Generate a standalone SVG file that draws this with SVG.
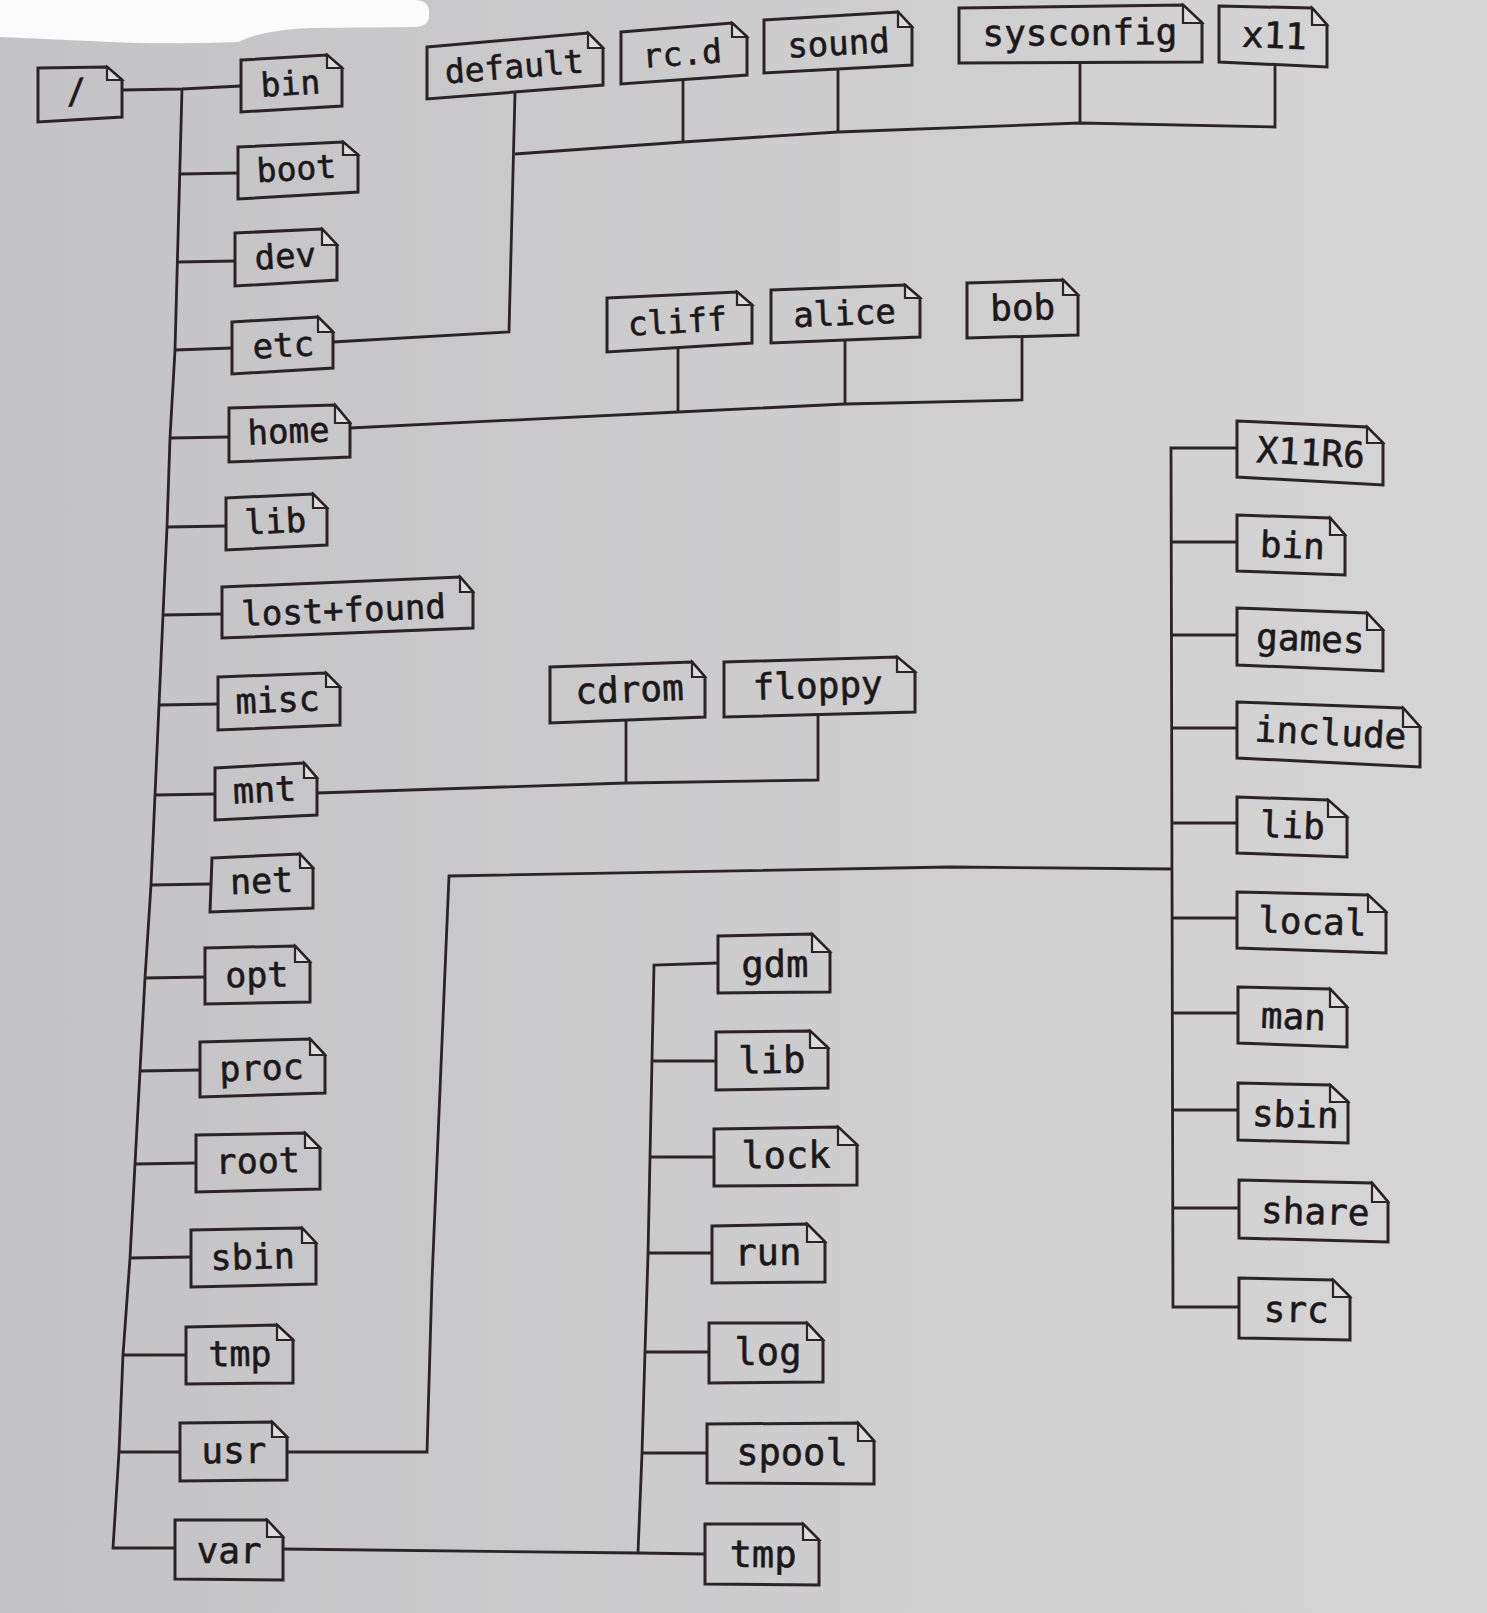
<svg xmlns="http://www.w3.org/2000/svg" width="1487" height="1613" viewBox="0 0 1487 1613">
  <defs>
    <linearGradient id="paper" x1="0" y1="0" x2="1" y2="0">
      <stop offset="0" stop-color="#c3c3c5"/>
      <stop offset="0.65" stop-color="#cfcfd0"/>
      <stop offset="1" stop-color="#d6d6d6"/>
    </linearGradient>
    <style>
      .box { fill: none; stroke: #2a2427; stroke-width: 3; stroke-linejoin: miter; }
      .fold { fill: #dcdcdc; stroke: #2a2427; stroke-width: 2.2; stroke-linejoin: miter; }
      .wire { fill: none; stroke: #2a2427; stroke-width: 2.8; stroke-linejoin: miter; }
      text { font-family: "DejaVu Sans Mono", "Liberation Mono", monospace; fill: #1d181a; stroke: #1d181a; stroke-width: 0.6; text-anchor: middle; }
      .f33 { font-size: 33px; }
      .f34 { font-size: 34px; }
      .f35 { font-size: 35px; }
      .f36 { font-size: 36px; }
      .f37 { font-size: 37px; }
    </style>
  </defs>

  <!-- page -->
  <rect x="0" y="0" width="1487" height="1613" fill="url(#paper)"/>
  <path d="M0,0 H414 Q429,0 429,12 V16 Q429,26 416,27 L310,28 Q262,30 238,42 Q160,45 90,41 L0,37 Z" fill="#fbfbfb"/>

  <!-- connectors -->
  <g id="connectors">
    <!-- root trunk -->
    <polyline class="wire" points="122,90 182,89 241,86"/>
    <polyline class="wire" points="182,89 175,350 170,438 167,527 163,615 159,705 155,795 151,885 145,978 140,1071 135,1164 130,1258 123,1355 119,1452 113,1548 175,1548"/>
    <line class="wire" x1="180" y1="174" x2="238" y2="173"/>
    <line class="wire" x1="178" y1="262" x2="235" y2="261"/>
    <line class="wire" x1="175" y1="350" x2="232" y2="348"/>
    <line class="wire" x1="170" y1="438" x2="229" y2="437"/>
    <line class="wire" x1="167" y1="527" x2="226" y2="526"/>
    <line class="wire" x1="163" y1="615" x2="222" y2="614"/>
    <line class="wire" x1="159" y1="705" x2="218" y2="704"/>
    <line class="wire" x1="155" y1="795" x2="215" y2="794"/>
    <line class="wire" x1="151" y1="885" x2="210" y2="884"/>
    <line class="wire" x1="145" y1="978" x2="205" y2="977"/>
    <line class="wire" x1="140" y1="1071" x2="200" y2="1070"/>
    <line class="wire" x1="135" y1="1164" x2="196" y2="1163"/>
    <line class="wire" x1="130" y1="1258" x2="191" y2="1257"/>
    <line class="wire" x1="123" y1="1355" x2="186" y2="1355"/>
    <line class="wire" x1="119" y1="1452" x2="180" y2="1452"/>

    <!-- /etc -->
    <polyline class="wire" points="333,342 509,332 515,93"/>
    <polyline class="wire" points="515,154 683,142 838,132 1080,123 1275,127 1275,65"/>
    <line class="wire" x1="683" y1="142" x2="683" y2="80"/>
    <line class="wire" x1="838" y1="132" x2="838" y2="69"/>
    <line class="wire" x1="1080" y1="123" x2="1080" y2="62"/>

    <!-- /home -->
    <polyline class="wire" points="350,428 678,412 845,404 1022,400 1022,337"/>
    <line class="wire" x1="678" y1="412" x2="678" y2="348"/>
    <line class="wire" x1="845" y1="404" x2="845" y2="340"/>

    <!-- /mnt -->
    <polyline class="wire" points="317,793 626,783 818,780 818,715"/>
    <line class="wire" x1="626" y1="783" x2="626" y2="720"/>

    <!-- /usr -->
    <polyline class="wire" points="287,1452 427,1452 432,1280 449,876 950,867 1173,869"/>
    <polyline class="wire" points="1237,448 1171,448 1173,1307 1239,1307"/>
    <line class="wire" x1="1171" y1="542" x2="1237" y2="542"/>
    <line class="wire" x1="1171" y1="635" x2="1237" y2="635"/>
    <line class="wire" x1="1171" y1="728" x2="1237" y2="728"/>
    <line class="wire" x1="1172" y1="823" x2="1237" y2="823"/>
    <line class="wire" x1="1172" y1="918" x2="1237" y2="918"/>
    <line class="wire" x1="1172" y1="1013" x2="1238" y2="1013"/>
    <line class="wire" x1="1173" y1="1110" x2="1238" y2="1110"/>
    <line class="wire" x1="1173" y1="1208" x2="1239" y2="1208"/>

    <!-- /var -->
    <polyline class="wire" points="283,1549 638,1553 705,1554"/>
    <polyline class="wire" points="718,963 654,965 652,1060 650,1157 648,1255 645,1352 642,1453 638,1553"/>
    <line class="wire" x1="652" y1="1061" x2="716" y2="1061"/>
    <line class="wire" x1="650" y1="1157" x2="714" y2="1157"/>
    <line class="wire" x1="648" y1="1253" x2="712" y2="1253"/>
    <line class="wire" x1="645" y1="1352" x2="709" y2="1352"/>
    <line class="wire" x1="642" y1="1453" x2="707" y2="1453"/>
  </g>

  <!-- top level -->
  <g id="n-root"><path class="box" d="M38,68 L107,67 L122,80 L122,117 L38,122 Z"/><path class="fold" d="M107,67 L107,80 L122,80 Z"/><text class="f34" x="77" y="103" transform="rotate(-3.4 77 103)">/</text></g>
  <g id="n-bin"><path class="box" d="M241,60 L327,55 L342,68 L342,106 L241,112 Z"/><path class="fold" d="M327,55 L327,68 L342,68 Z"/><text class="f33" x="291" y="95" transform="rotate(-3.4 291 95)">bin</text></g>
  <g id="n-boot"><path class="box" d="M238,147 L343,142 L358,155 L358,192 L238,199 Z"/><path class="fold" d="M343,142 L343,155 L358,155 Z"/><text class="f33" x="297" y="180" transform="rotate(-3.3 297 180)">boot</text></g>
  <g id="n-dev"><path class="box" d="M235,233 L322,229 L337,245 L337,280 L235,286 Z"/><path class="fold" d="M322,229 L322,245 L337,245 Z"/><text class="f34" x="286" y="268" transform="rotate(-3.4 286 268)">dev</text></g>
  <g id="n-etc"><path class="box" d="M232,322 L318,317 L333,332 L333,368 L232,374 Z"/><path class="fold" d="M318,317 L318,332 L333,332 Z"/><text class="f34" x="284" y="357" transform="rotate(-3.4 284 357)">etc</text></g>
  <g id="n-home"><path class="box" d="M229,408 L335,405 L350,423 L350,457 L229,462 Z"/><path class="fold" d="M335,405 L335,423 L350,423 Z"/><text class="f34" x="289" y="443" transform="rotate(-2.4 289 443)">home</text></g>
  <g id="n-lib"><path class="box" d="M226,498 L313,494 L327,508 L327,545 L226,550 Z"/><path class="fold" d="M313,494 L313,508 L327,508 Z"/><text class="f34" x="276" y="533" transform="rotate(-2.8 276 533)">lib</text></g>
  <g id="n-lostfound"><path class="box" d="M222,587 L460,577 L473,592 L473,628 L222,638 Z"/><path class="fold" d="M460,577 L460,592 L473,592 Z"/><text class="f34" x="344" y="622" transform="rotate(-2.3 344 622)">lost+found</text></g>
  <g id="n-misc"><path class="box" d="M218,677 L326,673 L340,687 L340,725 L218,730 Z"/><path class="fold" d="M326,673 L326,687 L340,687 Z"/><text class="f35" x="278" y="712" transform="rotate(-2.3 278 712)">misc</text></g>
  <g id="n-mnt"><path class="box" d="M215,768 L304,763 L317,778 L317,815 L215,820 Z"/><path class="fold" d="M304,763 L304,778 L317,778 Z"/><text class="f35" x="265" y="802" transform="rotate(-2.8 265 802)">mnt</text></g>
  <g id="n-net"><path class="box" d="M212,858 L300,854 L313,868 L313,908 L210,912 Z"/><path class="fold" d="M300,854 L300,868 L313,868 Z"/><text class="f35" x="262" y="893" transform="rotate(-2.2 262 893)">net</text></g>
  <g id="n-opt"><path class="box" d="M205,948 L295,946 L310,962 L310,1002 L205,1004 Z"/><path class="fold" d="M295,946 L295,962 L310,962 Z"/><text class="f35" x="257" y="987" transform="rotate(-1.1 257 987)">opt</text></g>
  <g id="n-proc"><path class="box" d="M200,1042 L310,1039 L325,1055 L325,1093 L200,1097 Z"/><path class="fold" d="M310,1039 L310,1055 L325,1055 Z"/><text class="f35" x="262" y="1080" transform="rotate(-1.8 262 1080)">proc</text></g>
  <g id="n-rootdir"><path class="box" d="M196,1135 L305,1133 L320,1148 L320,1189 L196,1192 Z"/><path class="fold" d="M305,1133 L305,1148 L320,1148 Z"/><text class="f35" x="258" y="1173" transform="rotate(-1.4 258 1173)">root</text></g>
  <g id="n-sbin"><path class="box" d="M191,1230 L302,1228 L316,1243 L316,1284 L191,1287 Z"/><path class="fold" d="M302,1228 L302,1243 L316,1243 Z"/><text class="f35" x="253" y="1269" transform="rotate(-1.4 253 1269)">sbin</text></g>
  <g id="n-tmp"><path class="box" d="M186,1327 L277,1325 L293,1340 L293,1383 L186,1384 Z"/><path class="fold" d="M277,1325 L277,1340 L293,1340 Z"/><text class="f35" x="240" y="1366" transform="rotate(-0.5 240 1366)">tmp</text></g>
  <g id="n-usr"><path class="box" d="M180,1423 L272,1422 L287,1437 L287,1480 L180,1481 Z"/><path class="fold" d="M272,1422 L272,1437 L287,1437 Z"/><text class="f36" x="234" y="1463" transform="rotate(-0.5 234 1463)">usr</text></g>
  <g id="n-var"><path class="box" d="M175,1520 L267,1520 L283,1537 L283,1580 L175,1579 Z"/><path class="fold" d="M267,1520 L267,1537 L283,1537 Z"/><text class="f36" x="229" y="1563" transform="rotate(0.5 229 1563)">var</text></g>

  <!-- /etc children -->
  <g id="n-etc-default"><path class="box" d="M427,47 L588,33 L603,48 L603,85 L427,99 Z"/><path class="fold" d="M588,33 L588,48 L603,48 Z"/><text class="f33" x="515" y="78" transform="rotate(-4.5 515 78)">default</text></g>
  <g id="n-etc-rcd"><path class="box" d="M621,32 L732,23 L747,37 L747,75 L621,84 Z"/><path class="fold" d="M732,23 L732,37 L747,37 Z"/><text class="f33" x="683" y="65" transform="rotate(-4.1 683 65)">rc.d</text></g>
  <g id="n-etc-sound"><path class="box" d="M764,20 L898,12 L912,27 L912,65 L764,73 Z"/><path class="fold" d="M898,12 L898,27 L912,27 Z"/><text class="f34" x="839" y="55" transform="rotate(-3.1 839 55)">sound</text></g>
  <g id="n-etc-sysconfig"><path class="box" d="M959,8 L1183,5 L1202,23 L1202,62 L959,63 Z"/><path class="fold" d="M1183,5 L1183,23 L1202,23 Z"/><text class="f36" x="1080" y="45" transform="rotate(-0.5 1080 45)">sysconfig</text></g>
  <g id="n-etc-x11"><path class="box" d="M1219,6 L1312,8 L1327,25 L1327,67 L1219,62 Z"/><path class="fold" d="M1312,8 L1312,25 L1327,25 Z"/><text class="f36" x="1274" y="48" transform="rotate(2 1274 48)">x11</text></g>

  <!-- /home children -->
  <g id="n-home-cliff"><path class="box" d="M607,298 L737,292 L752,305 L752,343 L607,352 Z"/><path class="fold" d="M737,292 L737,305 L752,305 Z"/><text class="f33" x="678" y="333" transform="rotate(-3.2 678 333)">cliff</text></g>
  <g id="n-home-alice"><path class="box" d="M771,290 L905,285 L920,298 L920,337 L771,343 Z"/><path class="fold" d="M905,285 L905,298 L920,298 Z"/><text class="f34" x="845" y="325" transform="rotate(-2.3 845 325)">alice</text></g>
  <g id="n-home-bob"><path class="box" d="M967,283 L1063,280 L1078,295 L1078,335 L967,338 Z"/><path class="fold" d="M1063,280 L1063,295 L1078,295 Z"/><text class="f36" x="1023" y="320" transform="rotate(-1.5 1023 320)">bob</text></g>

  <!-- /mnt children -->
  <g id="n-mnt-cdrom"><path class="box" d="M550,667 L692,662 L705,677 L705,717 L550,723 Z"/><path class="fold" d="M692,662 L692,677 L705,677 Z"/><text class="f36" x="630" y="702" transform="rotate(-2.2 630 702)">cdrom</text></g>
  <g id="n-mnt-floppy"><path class="box" d="M724,662 L897,657 L915,672 L915,712 L724,717 Z"/><path class="fold" d="M897,657 L897,672 L915,672 Z"/><text class="f36" x="818" y="698" transform="rotate(-1.5 818 698)">floppy</text></g>

  <!-- /var children -->
  <g id="n-var-gdm"><path class="box" d="M718,936 L812,934 L830,952 L830,992 L718,993 Z"/><path class="fold" d="M812,934 L812,952 L830,952 Z"/><text class="f37" x="775" y="977" transform="rotate(-0.5 775 977)">gdm</text></g>
  <g id="n-var-lib"><path class="box" d="M716,1032 L810,1031 L828,1048 L828,1088 L716,1090 Z"/><path class="fold" d="M810,1031 L810,1048 L828,1048 Z"/><text class="f37" x="772" y="1073" transform="rotate(-0.8 772 1073)">lib</text></g>
  <g id="n-var-lock"><path class="box" d="M714,1129 L838,1127 L857,1145 L857,1185 L714,1186 Z"/><path class="fold" d="M838,1127 L838,1145 L857,1145 Z"/><text class="f37" x="786" y="1168" transform="rotate(-0.4 786 1168)">lock</text></g>
  <g id="n-var-run"><path class="box" d="M712,1226 L807,1224 L825,1242 L825,1282 L712,1283 Z"/><path class="fold" d="M807,1224 L807,1242 L825,1242 Z"/><text class="f37" x="768" y="1265" transform="rotate(-0.5 768 1265)">run</text></g>
  <g id="n-var-log"><path class="box" d="M709,1323 L807,1323 L823,1340 L823,1382 L709,1383 Z"/><path class="fold" d="M807,1323 L807,1340 L823,1340 Z"/><text class="f37" x="768" y="1365">log</text></g>
  <g id="n-var-spool"><path class="box" d="M707,1424 L858,1423 L874,1441 L874,1484 L707,1483 Z"/><path class="fold" d="M858,1423 L858,1441 L874,1441 Z"/><text class="f37" x="792" y="1465" transform="rotate(0.3 792 1465)">spool</text></g>
  <g id="n-var-tmp"><path class="box" d="M705,1524 L803,1524 L819,1540 L819,1585 L705,1584 Z"/><path class="fold" d="M803,1524 L803,1540 L819,1540 Z"/><text class="f37" x="763" y="1567" transform="rotate(0.5 763 1567)">tmp</text></g>

  <!-- /usr children -->
  <g id="n-usr-x11r6"><path class="box" d="M1237,421 L1367,427 L1383,443 L1383,485 L1237,477 Z"/><path class="fold" d="M1367,427 L1367,443 L1383,443 Z"/><text class="f36" x="1310" y="465" transform="rotate(3 1310 465)">X11R6</text></g>
  <g id="n-usr-bin"><path class="box" d="M1237,515 L1330,518 L1345,535 L1345,575 L1237,571 Z"/><path class="fold" d="M1330,518 L1330,535 L1345,535 Z"/><text class="f36" x="1292" y="558" transform="rotate(2.1 1292 558)">bin</text></g>
  <g id="n-usr-games"><path class="box" d="M1237,608 L1367,613 L1383,630 L1383,671 L1237,665 Z"/><path class="fold" d="M1367,613 L1367,630 L1383,630 Z"/><text class="f36" x="1310" y="651" transform="rotate(2.4 1310 651)">games</text></g>
  <g id="n-usr-include"><path class="box" d="M1237,702 L1403,708 L1420,727 L1420,767 L1237,758 Z"/><path class="fold" d="M1403,708 L1403,727 L1420,727 Z"/><text class="f36" x="1330" y="745" transform="rotate(2.8 1330 745)">include</text></g>
  <g id="n-usr-lib"><path class="box" d="M1237,797 L1328,800 L1347,817 L1347,857 L1237,853 Z"/><path class="fold" d="M1328,800 L1328,817 L1347,817 Z"/><text class="f36" x="1292" y="838" transform="rotate(2.1 1292 838)">lib</text></g>
  <g id="n-usr-local"><path class="box" d="M1237,892 L1368,895 L1386,912 L1386,953 L1237,948 Z"/><path class="fold" d="M1368,895 L1368,912 L1386,912 Z"/><text class="f36" x="1312" y="934" transform="rotate(1.9 1312 934)">local</text></g>
  <g id="n-usr-man"><path class="box" d="M1238,987 L1330,989 L1347,1007 L1347,1047 L1238,1043 Z"/><path class="fold" d="M1330,989 L1330,1007 L1347,1007 Z"/><text class="f36" x="1293" y="1029" transform="rotate(2.1 1293 1029)">man</text></g>
  <g id="n-usr-sbin"><path class="box" d="M1238,1083 L1330,1085 L1348,1102 L1348,1143 L1238,1140 Z"/><path class="fold" d="M1330,1085 L1330,1102 L1348,1102 Z"/><text class="f36" x="1295" y="1127" transform="rotate(1.6 1295 1127)">sbin</text></g>
  <g id="n-usr-share"><path class="box" d="M1239,1180 L1372,1183 L1388,1202 L1388,1242 L1239,1238 Z"/><path class="fold" d="M1372,1183 L1372,1202 L1388,1202 Z"/><text class="f36" x="1315" y="1224" transform="rotate(1.5 1315 1224)">share</text></g>
  <g id="n-usr-src"><path class="box" d="M1239,1278 L1333,1280 L1350,1297 L1350,1340 L1239,1338 Z"/><path class="fold" d="M1333,1280 L1333,1297 L1350,1297 Z"/><text class="f36" x="1296" y="1322" transform="rotate(1 1296 1322)">src</text></g>
</svg>
